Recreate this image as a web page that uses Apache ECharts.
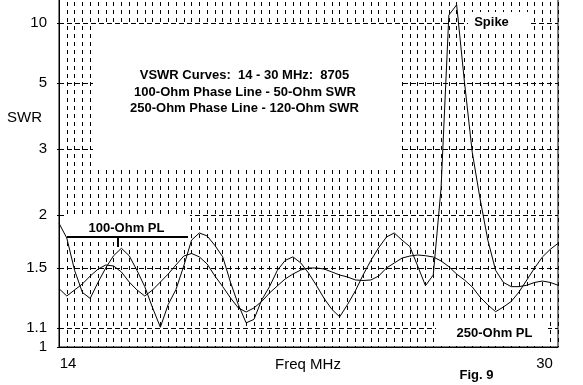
<!DOCTYPE html>
<html><head><meta charset="utf-8">
<script src="https://cdn.jsdelivr.net/npm/echarts@6/dist/echarts.min.js"></script>
<style>html,body{margin:0;padding:0;background:#fff}#c{width:583px;height:385px}</style>
</head><body><div id="c"></div>
<script>
// Frequencies (MHz)
const freqs = [14.00,14.25,14.50,14.75,15.00,15.25,15.50,15.75,16.00,16.25,16.50,16.75,17.00,17.25,17.50,17.75,
  18.00,18.25,18.50,18.75,19.00,19.25,19.50,19.75,20.00,20.25,20.50,20.75,21.00,21.25,21.50,21.75,
  22.00,22.25,22.50,22.75,23.00,23.25,23.50,23.75,24.00,24.25,24.50,24.75,25.00,25.25,25.50,25.75,
  26.00,26.25,26.50,26.75,27.00,27.25,27.50,27.75,28.00,28.25,28.50,28.75,29.00,29.25,29.50,29.75,30.00];
// 100-Ohm phase line, 50-Ohm SWR
const swr100 = [1.91,1.76,1.48,1.32,1.28,1.39,1.50,1.60,1.665,1.60,1.48,1.36,1.22,1.105,1.24,1.34,
  1.515,1.74,1.81,1.78,1.69,1.59,1.39,1.24,1.13,1.15,1.27,1.36,1.48,1.56,1.59,1.54,
  1.46,1.37,1.28,1.21,1.165,1.24,1.33,1.445,1.56,1.67,1.77,1.81,1.74,1.68,1.515,1.367,
  1.445,2.34,11.4,13.8,5.06,2.94,2.20,1.74,1.48,1.39,1.36,1.36,1.37,1.39,1.40,1.39,1.37];
// 250-Ohm phase line, 120-Ohm SWR
const swr250 = [1.346,1.296,1.337,1.379,1.437,1.49,1.523,1.515,1.468,1.393,1.337,1.296,1.337,1.393,1.452,1.523,
  1.597,1.619,1.59,1.531,1.437,1.36,1.283,1.219,1.194,1.219,1.26,1.316,1.365,1.415,1.452,1.483,
  1.499,1.499,1.491,1.468,1.445,1.43,1.408,1.404,1.408,1.437,1.499,1.539,1.58,1.597,1.606,1.60,
  1.589,1.556,1.51,1.452,1.408,1.358,1.289,1.238,1.196,1.225,1.26,1.323,1.408,1.499,1.589,1.655,1.71];
const yTickValues = [1, 1.1, 1.5, 2, 3, 5, 10];
const yTickLabels = ['1', '1.1', '1.5', '2', '3', '5', '10'];
const xTickValues = [14, 30];
const xTickLabels = ['14', '30'];
const yMaxSWR = 15.6;

// SWR is plotted on a reflection-coefficient scale
const rho = s => (s - 1) / (s + 1);

const chart = echarts.init(document.getElementById('c'), null, {renderer: 'canvas'});
const F = '"Liberation Sans", Arial, sans-serif';
const dashV = {color: '#000', width: 1, type: [4, 4], dashOffset: 5};
const dashH = {color: '#000', width: 1, type: [5, 3]};

function txt(text, x, y, font, align) {
  return {type: 'text', z: 110, silent: true,
    style: {text: text, x: x, y: y, font: font, fill: '#000',
      align: align || 'center', verticalAlign: 'middle',
      textAlign: align || 'center', textVerticalAlign: 'middle'}};
}
function box(x, y, w, h) {
  return {type: 'rect', z: 100, silent: true, shape: {x: x, y: y, width: w, height: h},
    style: {fill: '#fff', stroke: null}};
}

chart.setOption({
  animation: false,
  backgroundColor: '#fff',
  grid: {left: 59, right: 25, top: -1, bottom: 38, show: true, borderColor: '#000', borderWidth: 1,
    backgroundColor: 'transparent', outerBoundsMode: 'none', containLabel: false},
  xAxis: {
    type: 'value', min: 14, max: 30, interval: 0.25,
    axisLine: {show: true, lineStyle: {color: '#000', width: 1}},
    axisTick: {show: false},
    axisLabel: {
      customValues: xTickValues, margin: 9, color: '#000', fontFamily: F, fontSize: 15,
      formatter: v => {
        const i = xTickValues.findIndex(t => Math.abs(t - v) < 1e-6);
        if (i < 0) return '';
        return i === 0 ? '{a|' + xTickLabels[i] + '}' : '{b|' + xTickLabels[i] + '}';
      },
      rich: {a: {padding: [0, 0, 0, 18], fontSize: 15, fontFamily: F, color: '#000'},
             b: {padding: [0, 27, 0, 0], fontSize: 15, fontFamily: F, color: '#000'}}
    },
    splitLine: {show: true, lineStyle: dashV}
  },
  yAxis: {
    type: 'value', min: 0, max: rho(yMaxSWR),
    axisLine: {show: true, lineStyle: {color: '#000', width: 1}},
    axisTick: {show: true, customValues: yTickValues.map(rho), length: 2, lineStyle: {color: '#000'}},
    axisLabel: {
      customValues: yTickValues.map(rho), margin: 12, color: '#000', fontFamily: F, fontSize: 15,
      formatter: v => {
        let best = 0, d = 1e9;
        yTickValues.forEach((t, i) => { const dd = Math.abs(rho(t) - v); if (dd < d) { d = dd; best = i; } });
        return yTickLabels[best];
      }
    },
    splitLine: {show: true, lineStyle: dashH}
  },
  series: [
    {type: 'line', name: '100-Ohm PL', data: freqs.map((f, i) => [f, rho(swr100[i])]),
      symbol: 'none', lineStyle: {color: '#000', width: 1}, z: 5},
    {type: 'line', name: '250-Ohm PL', data: freqs.map((f, i) => [f, rho(swr250[i])]),
      symbol: 'none', lineStyle: {color: '#000', width: 1}, z: 5}
  ],
  graphic: {elements: [
    box(93, 26, 308, 140),
    txt('VSWR Curves:  14 - 30 MHz:  8705', 244.5, 75, 'bold 13px ' + F),
    txt('100-Ohm Phase Line - 50-Ohm SWR', 245, 92, 'bold 13px ' + F),
    txt('250-Ohm Phase Line - 120-Ohm SWR', 244.5, 108.5, 'bold 13px ' + F),
    box(468, 12, 63, 22),
    txt('Spike', 491.5, 22.5, 'bold 13px ' + F),
    box(67, 214, 123, 22),
    txt('100-Ohm PL', 126.5, 228, 'bold 13px ' + F),
    {type: 'polyline', z: 110, silent: true, shape: {points: [[68, 237], [188, 237]]},
      style: {stroke: '#000', lineWidth: 2, fill: null}},
    {type: 'polyline', z: 110, silent: true, shape: {points: [[118, 237], [118, 247]]},
      style: {stroke: '#000', lineWidth: 2, fill: null}},
    box(436, 321, 112, 22),
    txt('250-Ohm PL', 494.5, 333, 'bold 13px ' + F),
    txt('Fig. 9', 476.5, 375, 'bold 13px ' + F),
    txt('SWR', 7, 118, '15px ' + F, 'left'),
    txt('Freq MHz', 308, 365, '15px ' + F)
  ]}
});
</script></body></html>
